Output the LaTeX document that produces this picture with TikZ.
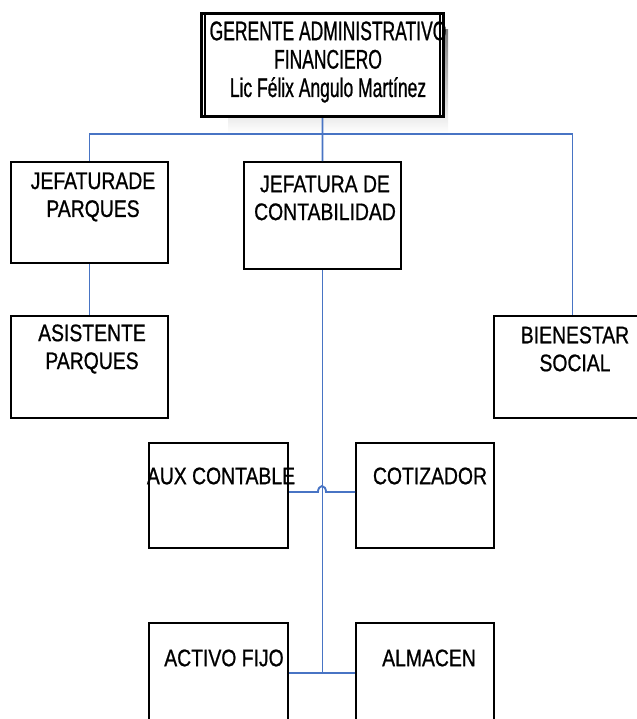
\documentclass[tikz,border=0pt]{standalone}
\usepackage{fontspec}
\setmainfont{Liberation Sans}[FakeStretch=0.81,FakeBold=0.8]
\newfontfamily\headfont{Liberation Sans}[FakeStretch=0.65,FakeBold=0.8]
\definecolor{linkblue}{RGB}{72,116,196}
\definecolor{shade}{RGB}{186,186,186}
\begin{document}
\begin{tikzpicture}[x=1bp,y=-1bp,
  unit/.style={draw=black, line width=2bp, fill=white, rectangle, inner sep=0pt, anchor=north west},
  conn/.style={draw=linkblue, line width=1.9bp},
  lbl/.style={align=center, inner sep=0pt, font=\fontsize{24}{28}\selectfont},
  headlbl/.style={align=center, inner sep=0pt, font=\headfont\fontsize{27}{28.5}\selectfont}]
\useasboundingbox (0,0) rectangle (637,719);
\clip (0,0) rectangle (637,719);

% shadow behind the head box
\fill[shade] (228,30) rectangle (448,133);

% head box with double frame
\node[unit, line width=3bp, minimum width=242bp, minimum height=103bp] (ger) at (200,12) {};
\draw[line width=1.4bp] ([xshift=5bp,yshift=-2bp]ger.north west) rectangle ([xshift=-5bp,yshift=2bp]ger.south east);
\node[headlbl] (gert) at (328,62) {GERENTE ADMINISTRATIVO\\FINANCIERO\\Lic Félix Angulo Martínez};

% second level
\node[unit, minimum width=157bp, minimum height=101bp] (jp) at (10,161) {};
\node[unit, minimum width=157bp, minimum height=107bp] (jc) at (243,161) {};
% third level
\node[unit, minimum width=157bp, minimum height=102bp] (ap) at (10,315) {};
\node[unit, minimum width=157bp, minimum height=102bp] (bs) at (493,315) {};
% accounting staff
\node[unit, minimum width=139bp, minimum height=105bp] (ax) at (148,442) {};
\node[unit, minimum width=138bp, minimum height=105bp] (co) at (355,442) {};
\node[unit, minimum width=139bp, minimum height=110bp] (af) at (148,622) {};
\node[unit, minimum width=138bp, minimum height=110bp] (al) at (355,622) {};

% labels
\node[lbl] (jpt) at (93,197) {JEFATURADE\\PARQUES};
\node[lbl] (jct) at (325,198) {JEFATURA DE\\CONTABILIDAD};
\node[lbl] (apt) at (92,349) {ASISTENTE\\PARQUES};
\node[lbl] (bst) at (575,349) {BIENESTAR\\SOCIAL};
\node[lbl] (axt) at (221,476) {AUX CONTABLE};
\node[lbl] (cot) at (430,476) {COTIZADOR};
\node[lbl] (aft) at (224,658) {ACTIVO FIJO};
\node[lbl] (alt) at (429,658) {ALMACEN};

% junction points
\coordinate (bar) at (322,134);
\coordinate (hop) at (322,492);
\coordinate (foot) at (322,673);

% connectors
\draw[conn] (ger.south) -- (jc.north);
\draw[conn] (jp.north) -- (jp.north |- bar) -- (bs.north |- bar) -- (bs.north);
\draw[conn] (jp.south) -- (ap.north);
\draw[conn] (jc.south) -- (jc.south |- foot);
\draw[conn] (af.east |- foot) -- (al.west |- foot);
\draw[conn] (ax.east |- hop) -- ([xshift=-4bp]hop)
  arc[start angle=180, end angle=0, x radius=4bp, y radius=6bp]
  -- (co.west |- hop);
\end{tikzpicture}
\end{document}
